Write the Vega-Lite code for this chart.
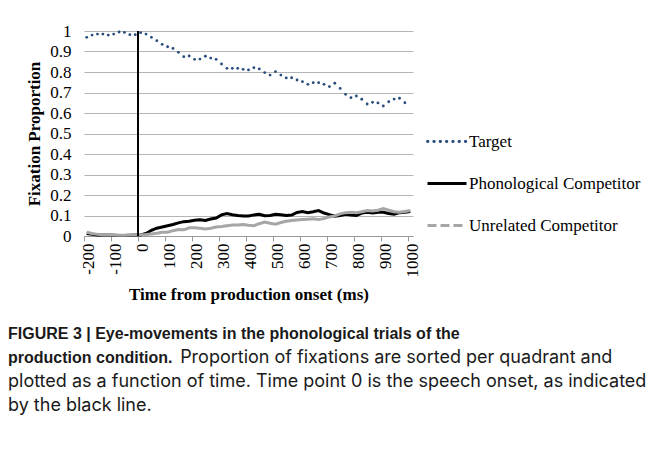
{
  "$schema": "https://vega.github.io/schema/vega-lite/v6.json",
  "width": 329,
  "height": 205,
  "autosize": {"type": "none"},
  "padding": {"left": 84, "top": 31, "right": 246, "bottom": 217},
  "background": "white",
  "config": {"view": {"stroke": null}, "font": "Liberation Serif"},
  "title": {
    "text": ["FIGURE 3 | Eye-movements in the phonological trials of the", "production condition."],
    "subtitle": ["\u200b\u00a0\u00a0\u00a0\u00a0\u00a0\u00a0\u00a0\u00a0\u00a0\u00a0\u00a0\u00a0\u00a0\u00a0\u00a0\u00a0\u00a0\u00a0\u00a0\u00a0\u00a0\u00a0\u00a0\u00a0\u00a0\u00a0\u00a0\u00a0\u00a0\u00a0\u00a0\u00a0\u00a0\u00a0Proportion of fixations are sorted per quadrant and", "plotted as a function of time. Time point 0 is the speech onset, as indicated", "by the black line."],
    "orient": "bottom",
    "anchor": "start",
    "frame": "group",
    "dx": -76,
    "offset": 24,
    "font": "Liberation Sans",
    "fontSize": 16,
    "fontWeight": "bold",
    "lineHeight": 24,
    "color": "#1a1a1a",
    "subtitleFont": "Inter",
    "subtitleFontSize": 18,
    "subtitleFontWeight": "normal",
    "subtitleLineHeight": 24,
    "subtitleColor": "#1a1a1a",
    "subtitlePadding": -17
  },
  "data": {
    "values": [
      {"t": -200, "s": "Target", "v": 0.969}, {"t": -180, "s": "Target", "v": 0.98}, {"t": -160, "s": "Target", "v": 0.985}, {"t": -140, "s": "Target", "v": 0.985}, {"t": -120, "s": "Target", "v": 0.98}, {"t": -100, "s": "Target", "v": 0.985}, {"t": -80, "s": "Target", "v": 0.995}, {"t": -60, "s": "Target", "v": 0.993}, {"t": -40, "s": "Target", "v": 0.982}, {"t": -20, "s": "Target", "v": 0.982},
      {"t": 0, "s": "Target", "v": 0.992}, {"t": 20, "s": "Target", "v": 0.985}, {"t": 40, "s": "Target", "v": 0.969}, {"t": 60, "s": "Target", "v": 0.953}, {"t": 80, "s": "Target", "v": 0.935}, {"t": 100, "s": "Target", "v": 0.923}, {"t": 120, "s": "Target", "v": 0.915}, {"t": 140, "s": "Target", "v": 0.896}, {"t": 160, "s": "Target", "v": 0.875}, {"t": 180, "s": "Target", "v": 0.878},
      {"t": 200, "s": "Target", "v": 0.862}, {"t": 220, "s": "Target", "v": 0.863}, {"t": 240, "s": "Target", "v": 0.877}, {"t": 260, "s": "Target", "v": 0.868}, {"t": 280, "s": "Target", "v": 0.862}, {"t": 300, "s": "Target", "v": 0.839}, {"t": 320, "s": "Target", "v": 0.818}, {"t": 340, "s": "Target", "v": 0.818}, {"t": 360, "s": "Target", "v": 0.818}, {"t": 380, "s": "Target", "v": 0.813},
      {"t": 400, "s": "Target", "v": 0.81}, {"t": 420, "s": "Target", "v": 0.821}, {"t": 440, "s": "Target", "v": 0.815}, {"t": 460, "s": "Target", "v": 0.797}, {"t": 480, "s": "Target", "v": 0.785}, {"t": 500, "s": "Target", "v": 0.802}, {"t": 520, "s": "Target", "v": 0.785}, {"t": 540, "s": "Target", "v": 0.771}, {"t": 560, "s": "Target", "v": 0.772}, {"t": 580, "s": "Target", "v": 0.761},
      {"t": 600, "s": "Target", "v": 0.753}, {"t": 620, "s": "Target", "v": 0.74}, {"t": 640, "s": "Target", "v": 0.748}, {"t": 660, "s": "Target", "v": 0.748}, {"t": 680, "s": "Target", "v": 0.74}, {"t": 700, "s": "Target", "v": 0.729}, {"t": 720, "s": "Target", "v": 0.745}, {"t": 740, "s": "Target", "v": 0.72}, {"t": 760, "s": "Target", "v": 0.691}, {"t": 780, "s": "Target", "v": 0.675},
      {"t": 800, "s": "Target", "v": 0.683}, {"t": 820, "s": "Target", "v": 0.667}, {"t": 840, "s": "Target", "v": 0.644}, {"t": 860, "s": "Target", "v": 0.652}, {"t": 880, "s": "Target", "v": 0.649}, {"t": 900, "s": "Target", "v": 0.634}, {"t": 920, "s": "Target", "v": 0.655}, {"t": 940, "s": "Target", "v": 0.668}, {"t": 960, "s": "Target", "v": 0.672}, {"t": 980, "s": "Target", "v": 0.65},

      {"t": -200, "s": "Phonological Competitor", "v": 0.012}, {"t": -180, "s": "Phonological Competitor", "v": 0.008}, {"t": -160, "s": "Phonological Competitor", "v": 0.005}, {"t": -140, "s": "Phonological Competitor", "v": 0.005}, {"t": -120, "s": "Phonological Competitor", "v": 0.005}, {"t": -100, "s": "Phonological Competitor", "v": 0.004}, {"t": -80, "s": "Phonological Competitor", "v": 0.003}, {"t": -60, "s": "Phonological Competitor", "v": 0.003}, {"t": -40, "s": "Phonological Competitor", "v": 0.004}, {"t": -20, "s": "Phonological Competitor", "v": 0.005},
      {"t": 0, "s": "Phonological Competitor", "v": 0.005}, {"t": 20, "s": "Phonological Competitor", "v": 0.012}, {"t": 40, "s": "Phonological Competitor", "v": 0.028}, {"t": 60, "s": "Phonological Competitor", "v": 0.038}, {"t": 80, "s": "Phonological Competitor", "v": 0.044}, {"t": 100, "s": "Phonological Competitor", "v": 0.05}, {"t": 120, "s": "Phonological Competitor", "v": 0.056}, {"t": 140, "s": "Phonological Competitor", "v": 0.064}, {"t": 160, "s": "Phonological Competitor", "v": 0.07}, {"t": 180, "s": "Phonological Competitor", "v": 0.072},
      {"t": 200, "s": "Phonological Competitor", "v": 0.077}, {"t": 220, "s": "Phonological Competitor", "v": 0.079}, {"t": 240, "s": "Phonological Competitor", "v": 0.076}, {"t": 260, "s": "Phonological Competitor", "v": 0.083}, {"t": 280, "s": "Phonological Competitor", "v": 0.088}, {"t": 300, "s": "Phonological Competitor", "v": 0.103}, {"t": 320, "s": "Phonological Competitor", "v": 0.11}, {"t": 340, "s": "Phonological Competitor", "v": 0.104}, {"t": 360, "s": "Phonological Competitor", "v": 0.1}, {"t": 380, "s": "Phonological Competitor", "v": 0.098},
      {"t": 400, "s": "Phonological Competitor", "v": 0.098}, {"t": 420, "s": "Phonological Competitor", "v": 0.103}, {"t": 440, "s": "Phonological Competitor", "v": 0.106}, {"t": 460, "s": "Phonological Competitor", "v": 0.099}, {"t": 480, "s": "Phonological Competitor", "v": 0.1}, {"t": 500, "s": "Phonological Competitor", "v": 0.106}, {"t": 520, "s": "Phonological Competitor", "v": 0.104}, {"t": 540, "s": "Phonological Competitor", "v": 0.1}, {"t": 560, "s": "Phonological Competitor", "v": 0.102}, {"t": 580, "s": "Phonological Competitor", "v": 0.115},
      {"t": 600, "s": "Phonological Competitor", "v": 0.119}, {"t": 620, "s": "Phonological Competitor", "v": 0.114}, {"t": 640, "s": "Phonological Competitor", "v": 0.118}, {"t": 660, "s": "Phonological Competitor", "v": 0.124}, {"t": 680, "s": "Phonological Competitor", "v": 0.112}, {"t": 700, "s": "Phonological Competitor", "v": 0.104}, {"t": 720, "s": "Phonological Competitor", "v": 0.097}, {"t": 740, "s": "Phonological Competitor", "v": 0.1}, {"t": 760, "s": "Phonological Competitor", "v": 0.106}, {"t": 780, "s": "Phonological Competitor", "v": 0.102},
      {"t": 800, "s": "Phonological Competitor", "v": 0.1}, {"t": 820, "s": "Phonological Competitor", "v": 0.112}, {"t": 840, "s": "Phonological Competitor", "v": 0.116}, {"t": 860, "s": "Phonological Competitor", "v": 0.112}, {"t": 880, "s": "Phonological Competitor", "v": 0.116}, {"t": 900, "s": "Phonological Competitor", "v": 0.116}, {"t": 920, "s": "Phonological Competitor", "v": 0.11}, {"t": 940, "s": "Phonological Competitor", "v": 0.106}, {"t": 960, "s": "Phonological Competitor", "v": 0.114}, {"t": 980, "s": "Phonological Competitor", "v": 0.116}, {"t": 1000, "s": "Phonological Competitor", "v": 0.12},

      {"t": -200, "s": "Unrelated Competitor", "v": 0.018}, {"t": -180, "s": "Unrelated Competitor", "v": 0.012}, {"t": -160, "s": "Unrelated Competitor", "v": 0.008}, {"t": -140, "s": "Unrelated Competitor", "v": 0.006}, {"t": -120, "s": "Unrelated Competitor", "v": 0.006}, {"t": -100, "s": "Unrelated Competitor", "v": 0.005}, {"t": -80, "s": "Unrelated Competitor", "v": 0.004}, {"t": -60, "s": "Unrelated Competitor", "v": 0.004}, {"t": -40, "s": "Unrelated Competitor", "v": 0.005}, {"t": -20, "s": "Unrelated Competitor", "v": 0.006},
      {"t": 0, "s": "Unrelated Competitor", "v": 0.006}, {"t": 20, "s": "Unrelated Competitor", "v": 0.007}, {"t": 40, "s": "Unrelated Competitor", "v": 0.01}, {"t": 60, "s": "Unrelated Competitor", "v": 0.013}, {"t": 80, "s": "Unrelated Competitor", "v": 0.018}, {"t": 100, "s": "Unrelated Competitor", "v": 0.018}, {"t": 120, "s": "Unrelated Competitor", "v": 0.026}, {"t": 140, "s": "Unrelated Competitor", "v": 0.032}, {"t": 160, "s": "Unrelated Competitor", "v": 0.03}, {"t": 180, "s": "Unrelated Competitor", "v": 0.04},
      {"t": 200, "s": "Unrelated Competitor", "v": 0.04}, {"t": 220, "s": "Unrelated Competitor", "v": 0.038}, {"t": 240, "s": "Unrelated Competitor", "v": 0.034}, {"t": 260, "s": "Unrelated Competitor", "v": 0.038}, {"t": 280, "s": "Unrelated Competitor", "v": 0.044}, {"t": 300, "s": "Unrelated Competitor", "v": 0.046}, {"t": 320, "s": "Unrelated Competitor", "v": 0.05}, {"t": 340, "s": "Unrelated Competitor", "v": 0.054}, {"t": 360, "s": "Unrelated Competitor", "v": 0.054}, {"t": 380, "s": "Unrelated Competitor", "v": 0.056},
      {"t": 400, "s": "Unrelated Competitor", "v": 0.052}, {"t": 420, "s": "Unrelated Competitor", "v": 0.05}, {"t": 440, "s": "Unrelated Competitor", "v": 0.06}, {"t": 460, "s": "Unrelated Competitor", "v": 0.068}, {"t": 480, "s": "Unrelated Competitor", "v": 0.062}, {"t": 500, "s": "Unrelated Competitor", "v": 0.058}, {"t": 520, "s": "Unrelated Competitor", "v": 0.066}, {"t": 540, "s": "Unrelated Competitor", "v": 0.072}, {"t": 560, "s": "Unrelated Competitor", "v": 0.076}, {"t": 580, "s": "Unrelated Competitor", "v": 0.078},
      {"t": 600, "s": "Unrelated Competitor", "v": 0.08}, {"t": 620, "s": "Unrelated Competitor", "v": 0.082}, {"t": 640, "s": "Unrelated Competitor", "v": 0.084}, {"t": 660, "s": "Unrelated Competitor", "v": 0.08}, {"t": 680, "s": "Unrelated Competitor", "v": 0.085}, {"t": 700, "s": "Unrelated Competitor", "v": 0.093}, {"t": 720, "s": "Unrelated Competitor", "v": 0.098}, {"t": 740, "s": "Unrelated Competitor", "v": 0.108}, {"t": 760, "s": "Unrelated Competitor", "v": 0.114}, {"t": 780, "s": "Unrelated Competitor", "v": 0.116},
      {"t": 800, "s": "Unrelated Competitor", "v": 0.114}, {"t": 820, "s": "Unrelated Competitor", "v": 0.118}, {"t": 840, "s": "Unrelated Competitor", "v": 0.124}, {"t": 860, "s": "Unrelated Competitor", "v": 0.122}, {"t": 880, "s": "Unrelated Competitor", "v": 0.126}, {"t": 900, "s": "Unrelated Competitor", "v": 0.134}, {"t": 920, "s": "Unrelated Competitor", "v": 0.126}, {"t": 940, "s": "Unrelated Competitor", "v": 0.118}, {"t": 960, "s": "Unrelated Competitor", "v": 0.116}, {"t": 980, "s": "Unrelated Competitor", "v": 0.12}, {"t": 1000, "s": "Unrelated Competitor", "v": 0.124}
    ]
  },
  "encoding": {
    "x": {
      "field": "t",
      "type": "quantitative",
      "scale": {"domain": [-210, 1010], "nice": false, "zero": false},
      "axis": {
        "title": "Time from production onset (ms)",
        "titleFont": "Liberation Serif",
        "titleFontSize": 17,
        "titleFontWeight": "bold",
        "titleColor": "black",
        "titlePadding": 9,
        "values": [-200, -100, 0, 100, 200, 300, 400, 500, 600, 700, 800, 900, 1000],
        "labelExpr": "datum.value + ''",
        "labelAngle": -90,
        "labelFont": "Liberation Serif",
        "labelFontSize": 17,
        "labelColor": "black",
        "labelPadding": 2,
        "labelOffset": 4.5,
        "tickOffset": -2.7,
        "labelOverlap": false,
        "labelFlush": false,
        "labelBound": false,
        "tickColor": "#9a9a9a",
        "tickSize": 5,
        "domainColor": "#9a9a9a",
        "grid": false
      }
    },
    "y": {
      "field": "v",
      "type": "quantitative",
      "scale": {"domain": [0, 1], "nice": false},
      "axis": {
        "title": "Fixation Proportion",
        "titleFont": "Liberation Serif",
        "titleFontSize": 17,
        "titleFontWeight": "bold",
        "titleColor": "black",
        "titlePadding": 6,
        "values": [0, 0.1, 0.2, 0.3, 0.4, 0.5, 0.6, 0.7, 0.8, 0.9, 1],
        "format": ".1~f",
        "labelFont": "Liberation Serif",
        "labelFontSize": 17,
        "labelColor": "black",
        "labelPadding": 13,
        "ticks": false,
        "domain": false,
        "grid": true,
        "gridColor": "#b5b5b5",
        "gridWidth": 1
      }
    }
  },
  "layer": [
    {
      "transform": [{"filter": "datum.s !== 'Target'"}],
      "mark": {"type": "line", "strokeWidth": 3},
      "encoding": {
        "color": {
          "field": "s",
          "type": "nominal",
          "scale": {
            "domain": ["Target", "Phonological Competitor", "Unrelated Competitor"],
            "range": ["#274b7d", "#000000", "#a6a6a6"]
          },
          "legend": {
            "title": null,
            "orient": "none",
            "legendX": 354.5,
            "legendY": 102,
            "symbolType": "stroke",
            "symbolStrokeWidth": 3,
            "labelFont": "Liberation Serif",
            "labelFontSize": 17,
            "labelColor": "black",
            "labelOffset": 13.5,
            "labelLimit": 300,
            "rowPadding": 24,
            "encode": {
              "symbols": {
                "update": {
                  "size": {"value": 1521},
                  "strokeDash": {"signal": "datum.value === 'Target' ? [0.5, 5.8] : datum.value === 'Unrelated Competitor' ? [9, 4] : [1, 0]"},
                  "strokeCap": {"signal": "datum.value === 'Target' ? 'round' : 'butt'"},
                  "strokeWidth": {"signal": "datum.value === 'Target' ? 2.8 : 3"}
                }
              }
            }
          }
        }
      }
    },
    {
      "transform": [{"filter": "datum.s === 'Target'"}],
      "mark": {"type": "point", "filled": true, "size": 8, "color": "#274b7d", "opacity": 1}
    },
    {
      "mark": {"type": "rule", "color": "black", "strokeWidth": 1.6, "xOffset": -2.7},
      "encoding": {"x": {"datum": 0, "type": "quantitative"}, "y": null}
    }
  ]
}
